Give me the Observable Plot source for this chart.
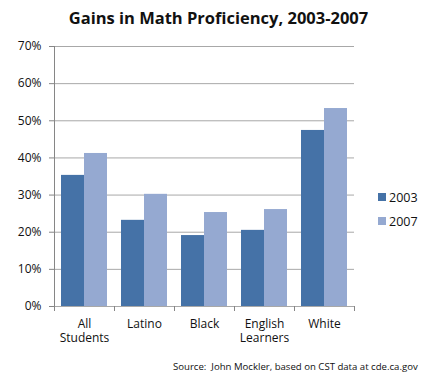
<!DOCTYPE html>
<html><head><meta charset="utf-8">
<script src="https://cdn.jsdelivr.net/npm/d3@7"></script>
<script src="https://cdn.jsdelivr.net/npm/@observablehq/plot@0.6"></script>
<style>
body{margin:0;background:#fff;font-family:"Open Sans",sans-serif;}
#wrap{position:relative;width:429px;height:378px;overflow:hidden;}
#title{height:36px;line-height:36px;text-align:center;font-weight:700;font-size:16.5px;color:#111;padding-left:8px;box-sizing:border-box;}
#legend{position:absolute;left:378px;top:185px;font-size:12.5px;color:#111;}
#legend div{display:flex;align-items:center;height:24px;}
#legend span.sw{display:inline-block;width:8px;height:8px;margin-right:3px;}
#source{position:absolute;left:173px;top:360px;font-size:9.6px;color:#111;white-space:nowrap;}
</style></head><body>
<div id="wrap">
<div id="title">Gains in Math Proficiency, 2003-2007</div>
<div id="chart"></div>
<div id="legend"></div>
<div id="source">Source:&nbsp; John Mockler, based on CST data at cde.ca.gov</div>
</div>
<script>
const categories = ["All\nStudents", "Latino", "Black", "English\nLearners", "White"];
const years = ["2003", "2007"];
const values2003 = [35.3, 23.2, 19.1, 20.5, 47.4];
const values2007 = [41.2, 30.2, 25.3, 26.1, 53.3];
const yTicks = [0, 10, 20, 30, 40, 50, 60, 70];
const colors = ["#4572a7", "#95a9d1"];

const data = [];
categories.forEach((c, i) => {
  data.push({category: c, year: years[0], value: values2003[i]});
  data.push({category: c, year: years[1], value: values2007[i]});
});

const plot = Plot.plot({
  width: 429,
  height: 312,
  marginTop: 10,
  marginBottom: 42,
  marginLeft: 53,
  marginRight: 74,
  style: {fontFamily: "Open Sans, sans-serif", fontSize: "12px", color: "#111", background: "#fff"},
  fx: {domain: categories, padding: 0, label: null, axis: null},
  x: {domain: years, paddingInner: 0, paddingOuter: 0.258, axis: null},
  y: {domain: [0, 70], ticks: yTicks, label: null, axis: null},
  color: {domain: years, range: colors},
  marks: [
    Plot.gridY(yTicks, {stroke: "#a8a8a8", strokeOpacity: 1}),
    Plot.barY(data, {fx: "category", x: "year", y: "value", fill: "year"}),
    Plot.axisY(yTicks, {anchor: "left", tickSize: 5, tickPadding: 8, tickFormat: d => d + "%", stroke: "#868686", fill: "#111", fontSize: 12, label: null}),
    Plot.axisFx({anchor: "bottom", tickSize: 0, tickPadding: 11, lineHeight: 1.2, fontSize: 12, fill: "#111", label: null})
  ]
});
document.getElementById("chart").appendChild(plot);

// axis lines and category boundary ticks using the plot's scales
const fx = plot.scale("fx"), y = plot.scale("y");
const svg = d3.select(plot);
const g = svg.append("g").attr("stroke", "#868686").attr("shape-rendering", "crispEdges");
const x0 = fx.apply(categories[0]);
g.append("line").attr("x1", x0).attr("x2", x0).attr("y1", y.apply(70)).attr("y2", y.apply(0));
const bounds = categories.map(c => fx.apply(c)).concat([fx.apply(categories[categories.length-1]) + fx.bandwidth]);
bounds.forEach(b => g.append("line").attr("x1", b).attr("x2", b).attr("y1", y.apply(0)).attr("y2", y.apply(0) + 5));

const legend = d3.select("#legend");
years.forEach((yr, i) => {
  const row = legend.append("div");
  row.append("span").attr("class", "sw").style("background", colors[i]);
  row.append("span").text(yr);
});
</script>
</body></html>
